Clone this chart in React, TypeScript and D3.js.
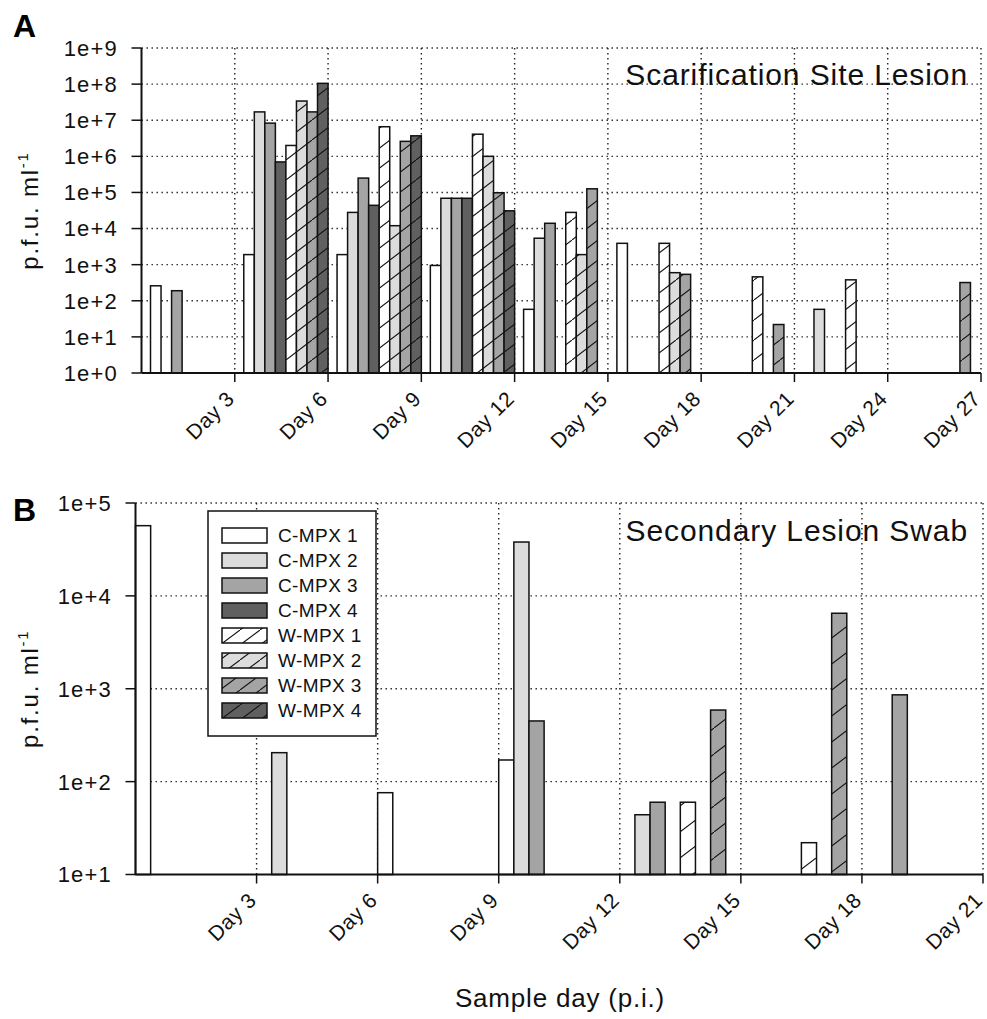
import React from "react";
import * as d3 from "d3";

// ---------- data ----------
const seriesNames = ["C-MPX 1", "C-MPX 2", "C-MPX 3", "C-MPX 4", "W-MPX 1", "W-MPX 2", "W-MPX 3", "W-MPX 4"];
const seriesFill = ["#ffffff", "#dcdcdc", "#a4a4a4", "#606060", "#ffffff", "#dcdcdc", "#a4a4a4", "#606060"];
const seriesHatched = [false, false, false, false, true, true, true, true];

const dayLabelsA = ["Day 3", "Day 6", "Day 9", "Day 12", "Day 15", "Day 18", "Day 21", "Day 24", "Day 27"];
const dayLabelsB = ["Day 3", "Day 6", "Day 9", "Day 12", "Day 15", "Day 18", "Day 21"];
const yTickLabelsA = ["1e+0", "1e+1", "1e+2", "1e+3", "1e+4", "1e+5", "1e+6", "1e+7", "1e+8", "1e+9"];
const yTickLabelsB = ["1e+1", "1e+2", "1e+3", "1e+4", "1e+5"];

// Panel A: Scarification Site Lesion (one value per 3-day group)
const aC1 = [260, 1900, 1900, 950, 58, 3900, null, null, null];
const aC2 = [null, 1.7e7, 2.8e4, 6.9e4, 5400, null, null, 58, null];
const aC3 = [190, 8.3e6, 2.5e5, 6.9e4, 1.4e4, null, null, null, null];
const aC4 = [null, 7e5, 4.4e4, 6.9e4, null, null, null, null, null];
const aW1 = [null, 2e6, 6.6e6, 4.1e6, 2.8e4, 3900, 460, 380, null];
const aW2 = [null, 3.4e7, 1.2e4, 1.0e6, 1900, 600, null, null, null];
const aW3 = [null, 1.7e7, 2.6e6, 9.8e4, 1.26e5, 540, 22, null, 320];
const aW4 = [null, 1.05e8, 3.7e6, 3.1e4, null, null, null, null, null];

// Panel B: Secondary Lesion Swab
const bC1 = [5.7e4, null, 76, 171, null, null, null];
const bC2 = [null, 205, null, 3.8e4, 44, null, null];
const bC3 = [null, null, null, 450, 60, null, 860];
const bC4 = [null, null, null, null, null, null, null];
const bW1 = [null, null, null, null, 60, 22, null];
const bW2 = [null, null, null, null, null, null, null];
const bW3 = [null, null, null, null, 590, 6500, null];
const bW4 = [null, null, null, null, null, null, null];

const FONT = "'Liberation Sans', Arial, sans-serif";

type PanelProps = {
  letter: string;
  letterY: number;
  title: string;
  titleY: number;
  left: number;
  right: number;
  top: number;
  bottom: number;
  yMin: number;
  yTickLabels: string[];
  dayLabels: string[];
  series: (number | null)[][];
  groupGap: number;
  labelRight: number;
  hatchId: string;
  legend?: boolean;
};

function Panel(p: PanelProps) {
  const nGroups = p.dayLabels.length;
  const x = d3.scaleLinear().domain([0, nGroups * 3]).range([p.left, p.right]);
  const yMax = p.yMin * Math.pow(10, p.yTickLabels.length - 1);
  const y = d3.scaleLog().domain([p.yMin, yMax]).range([p.bottom, p.top]);
  const tickVals = p.yTickLabels.map((_, i) => p.yMin * Math.pow(10, i));
  const dayVals = p.dayLabels.map((_, i) => (i + 1) * 3);
  const dotted = { stroke: "#222", strokeWidth: 1.4, strokeDasharray: "1.4 3.6" };

  const bars: React.ReactNode[] = [];
  for (let g = 0; g < nGroups; g++) {
    const inner = d3
      .scaleBand<string>()
      .domain(seriesNames)
      .range([x(g * 3) + p.groupGap, x(g * 3 + 3)])
      .padding(0);
    p.series.forEach((vals, s) => {
      const v = vals[g];
      if (v == null) return;
      const bx = inner(seriesNames[s])!;
      const bw = inner.bandwidth();
      const by = y(v);
      const bh = p.bottom - by;
      bars.push(
        <g key={`b${g}-${s}`}>
          <rect x={bx} y={by} width={bw} height={bh} fill={seriesFill[s]} />
          {seriesHatched[s] && <rect x={bx} y={by} width={bw} height={bh} fill={`url(#${p.hatchId})`} />}
          <rect x={bx} y={by} width={bw} height={bh} fill="none" stroke="#111" strokeWidth={1.5} />
        </g>
      );
    });
  }

  const midY = (p.top + p.bottom) / 2;

  return (
    <g>
      {/* grid */}
      {tickVals.slice(1).map((t, i) => (
        <line key={`hg${i}`} x1={p.left} x2={p.right} y1={y(t)} y2={y(t)} {...dotted} />
      ))}
      {dayVals.map((d, i) => (
        <line key={`vg${i}`} x1={x(d)} x2={x(d)} y1={p.top} y2={p.bottom} {...dotted} />
      ))}
      {bars}
      {/* axes */}
      <line x1={p.left} x2={p.left} y1={p.top} y2={p.bottom} stroke="#111" strokeWidth={2} />
      <line x1={p.left} x2={p.right} y1={p.bottom} y2={p.bottom} stroke="#111" strokeWidth={2} />
      {tickVals.map((t, i) => (
        <g key={`yt${i}`}>
          <line x1={p.left - 10} x2={p.left} y1={y(t)} y2={y(t)} stroke="#111" strokeWidth={1.5} />
          <text
            x={p.labelRight}
            y={y(t)}
            dy="0.36em"
            textAnchor="end"
            fontSize={22}
            letterSpacing={1.2}
            fontFamily={FONT}
            fill="#111"
          >
            {p.yTickLabels[i]}
          </text>
        </g>
      ))}
      {dayVals.map((d, i) => (
        <g key={`xt${i}`}>
          <line x1={x(d)} x2={x(d)} y1={p.bottom} y2={p.bottom + 9} stroke="#111" strokeWidth={1.5} />
          <text
            transform={`translate(${x(d) + 1},${p.bottom + 27}) rotate(-45)`}
            textAnchor="end"
            fontSize={21}
            letterSpacing={0.6}
            fontFamily={FONT}
            fill="#111"
          >
            {p.dayLabels[i]}
          </text>
        </g>
      ))}
      {/* y title */}
      <text
        transform={`translate(38,${midY}) rotate(-90)`}
        textAnchor="middle"
        fontSize={24}
        letterSpacing={1.8}
        fontFamily={FONT}
        fill="#111"
      >
        p.f.u. ml
        <tspan fontSize={15} dy={-10}>-1</tspan>
      </text>
      {/* panel letter */}
      <text x={13} y={p.letterY} fontSize={32} fontWeight="bold" fontFamily={FONT} fill="#000">
        {p.letter}
      </text>
      {/* title */}
      <text x={968} y={p.titleY} textAnchor="end" fontSize={30} letterSpacing={0.9} fontFamily={FONT} fill="#111">
        {p.title}
      </text>
      {p.legend && <Legend />}
    </g>
  );
}

function Legend() {
  const bx = 208;
  const by = 511;
  const bw = 168;
  const bh = 225;
  return (
    <g>
      <rect x={bx} y={by} width={bw} height={bh} fill="#fff" stroke="#111" strokeWidth={1.5} />
      {seriesNames.map((name, i) => {
        const ry = by + 17 + i * 25;
        return (
          <g key={name}>
            <rect x={bx + 14} y={ry} width={45} height={15} fill={seriesFill[i]} />
            {seriesHatched[i] && <rect x={bx + 14} y={ry} width={45} height={15} fill="url(#hatchL)" />}
            <rect x={bx + 14} y={ry} width={45} height={15} fill="none" stroke="#111" strokeWidth={1.5} />
            <text x={bx + 70} y={ry + 7.5} dy="0.36em" fontSize={19} letterSpacing={0.4} fontFamily={FONT} fill="#111">
              {name}
            </text>
          </g>
        );
      })}
    </g>
  );
}

function Hatch({ id, w, h }: { id: string; w: number; h: number }) {
  return (
    <pattern id={id} patternUnits="userSpaceOnUse" width={w} height={h}>
      <line x1={-w * 0.1} y1={h * 1.1} x2={w * 1.1} y2={-h * 0.1} stroke="#111" strokeWidth={1.1} />
    </pattern>
  );
}

export default function App() {
  return (
    <div style={{ position: "absolute", left: 0, top: 0, width: 987, height: 1019, overflow: "hidden", background: "#fff" }}>
      <svg width={987} height={1019} style={{ display: "block" }}>
        <defs>
          <Hatch id="hatchA" w={26} h={20} />
          <Hatch id="hatchB" w={34} h={26} />
          <Hatch id="hatchL" w={20} h={15} />
        </defs>
        <rect width={987} height={1019} fill="#fff" />
        <Panel
          letter="A"
          letterY={37}
          title="Scarification Site Lesion"
          titleY={85}
          left={141.5}
          right={981}
          top={48}
          bottom={373}
          yMin={1}
          yTickLabels={yTickLabelsA}
          dayLabels={dayLabelsA}
          series={[aC1, aC2, aC3, aC4, aW1, aW2, aW3, aW4]}
          groupGap={9}
          labelRight={118}
          hatchId="hatchA"
        />
        <Panel
          letter="B"
          letterY={521}
          title="Secondary Lesion Swab"
          titleY={541}
          left={135.5}
          right={983}
          top={503}
          bottom={874.5}
          yMin={10}
          yTickLabels={yTickLabelsB}
          dayLabels={dayLabelsB}
          series={[bC1, bC2, bC3, bC4, bW1, bW2, bW3, bW4]}
          groupGap={0}
          labelRight={112}
          hatchId="hatchB"
          legend
        />
        <text x={560} y={1007} textAnchor="middle" fontSize={26} letterSpacing={0.8} fontFamily={FONT} fill="#111">
          Sample day (p.i.)
        </text>
      </svg>
    </div>
  );
}
